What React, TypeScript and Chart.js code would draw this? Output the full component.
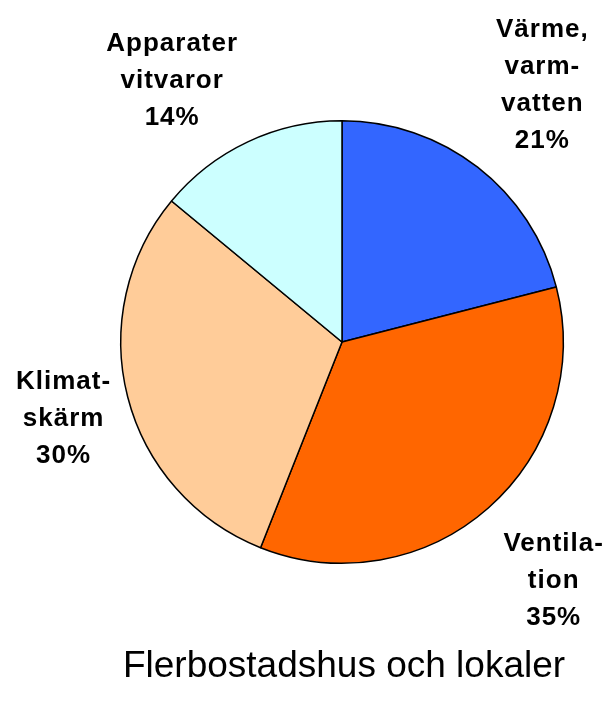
import React, { useEffect, useRef } from "react";
import { Chart, registerables } from "chart.js";

Chart.register(...registerables);

const categories = [
  ["Värme,", "varm-", "vatten"],
  ["Ventila-", "tion"],
  ["Klimat-", "skärm"],
  ["Apparater", "vitvaror"],
];
const values = [21, 35, 30, 14];
const colors = ["#3366FF", "#FF6600", "#FFCC99", "#CCFFFF"];
const chartTitle = "Flerbostadshus och lokaler";

// label placement style: distance factor (relative to radius) and angle nudge (degrees)
const labelDist = [1.47, 1.44, 1.31, 1.41];
const labelNudge = [0, 0, -1, -8];

const labelPlugin = {
  id: "pieLabels",
  afterDraw(chart: any) {
    const ctx = chart.ctx;
    const meta = chart.getDatasetMeta(0);
    ctx.save();
    ctx.fillStyle = "#000";
    ctx.textAlign = "center";
    ctx.textBaseline = "middle";
    ctx.font = 'bold 26px "Liberation Sans", Arial, sans-serif';
    (ctx as any).letterSpacing = "1px";
    const lineH = 37;
    meta.data.forEach((arc: any, i: number) => {
      const { x, y, startAngle, endAngle, outerRadius } = arc.getProps(
        ["x", "y", "startAngle", "endAngle", "outerRadius"],
        true
      );
      const mid = (startAngle + endAngle) / 2 + (labelNudge[i] * Math.PI) / 180;
      const d = outerRadius * labelDist[i];
      const cx = x + Math.cos(mid) * d;
      const cy = y + Math.sin(mid) * d;
      const lines = [...categories[i], values[i] + "%"];
      const top = cy - ((lines.length - 1) * lineH) / 2;
      lines.forEach((t, j) => {
        ctx.fillText(t, cx + 1, top + j * lineH);
      });
    });
    (ctx as any).letterSpacing = "0px";
    ctx.font = '37px "Liberation Sans", Arial, sans-serif';
    const area = chart.chartArea;
    ctx.fillText(chartTitle, (area.left + area.right) / 2 + 2, area.bottom + 103);
    ctx.restore();
  },
};

export default function App() {
  const ref = useRef<HTMLCanvasElement>(null);
  useEffect(() => {
    if (!ref.current) return;
    const chart = new Chart(ref.current, {
      type: "pie",
      data: {
        labels: categories.map((c) => c.join(" ")),
        datasets: [
          {
            data: values,
            backgroundColor: colors,
            borderColor: "#000000",
            borderWidth: 1.5,
            hoverOffset: 0,
          },
        ],
      },
      options: {
        responsive: false,
        maintainAspectRatio: false,
        animation: false,
        layout: { padding: { left: 120, top: 120, right: 48, bottom: 142 } },
        plugins: {
          legend: { display: false },
          tooltip: { enabled: false },
          title: { display: false },
        },
      },
      plugins: [labelPlugin],
    });
    return () => chart.destroy();
  }, []);
  return (
    <div style={{ position: "fixed", left: 0, top: 0, width: 612, height: 706, background: "#fff" }}>
      <canvas ref={ref} width={612} height={706} />
    </div>
  );
}
